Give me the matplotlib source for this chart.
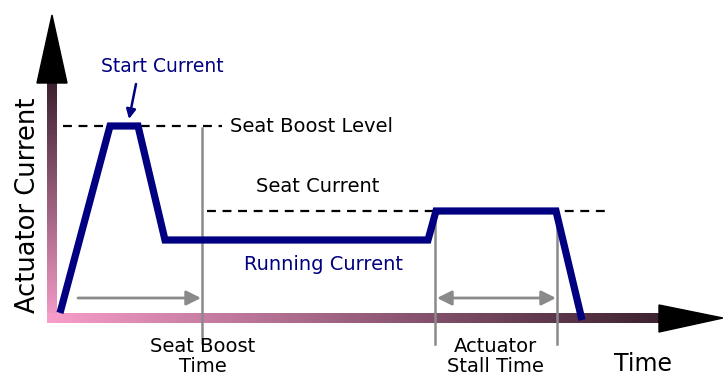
import numpy as np
import matplotlib
matplotlib.use("Agg")
import matplotlib.pyplot as plt
from matplotlib.colors import LinearSegmentedColormap

# diagram coordinates (pixel space, y grows downward)
curve_x = [60, 110, 138, 165, 428, 436, 556, 582]
curve_y = [313, 126, 126, 240, 240, 211, 211, 320]

boost_level = 126
boost_dash_x = [63, 222]
seat_level = 211
seat_dash_x = [207, 610]

guide_x = [202, 435, 557]
guide_top = [128, 211, 211]
guide_bottom = [343, 344, 344]

boost_arrow = (78, 201, 298)        # x0, x1, y
stall_arrow = (437, 556, 298)

yaxis_x = [47, 57]
yaxis_y = [83, 323]
xaxis_x = [47, 660]
xaxis_y = [313, 323]
yhead_x = [37, 67, 52]
yhead_y = [83, 83, 15]
xhead_x = [659, 659, 723]
xhead_y = [305, 332, 318]

NAVY = "#000080"
GRAY = "#8a8a8a"
PINK, DARK = "#f89dca", "#3d2231"
cmap = LinearSegmentedColormap.from_list("axis", [PINK, DARK])

fig = plt.figure(figsize=(7.23, 3.78), dpi=100)
ax = fig.add_axes([0, 0, 1, 1])
ax.set_xlim(0, 723); ax.set_ylim(378, 0); ax.axis("off")

# gradient axis bars
g = np.linspace(1, 0, 200).reshape(-1, 1)
ax.imshow(g, cmap=cmap, vmin=0, vmax=1, aspect="auto", interpolation="bilinear",
          extent=(yaxis_x[0], yaxis_x[1], yaxis_y[1], yaxis_y[0]), zorder=2)
gx = np.linspace(0, 1, 400).reshape(1, -1)
ax.imshow(gx, cmap=cmap, vmin=0, vmax=1, aspect="auto", interpolation="bilinear",
          extent=(xaxis_x[0], xaxis_x[1], xaxis_y[1], xaxis_y[0]), zorder=2)
ax.fill(yhead_x, yhead_y, color="black", zorder=3)
ax.fill(xhead_x, xhead_y, color="black", zorder=3)
ax.set_xlim(0, 723); ax.set_ylim(378, 0)

# dashed levels
ax.plot(boost_dash_x, [boost_level] * 2, color="black", lw=1.6, dashes=(4, 3), zorder=3)
ax.plot(seat_dash_x, [seat_level] * 2, color="black", lw=1.6, dashes=(4, 3), zorder=3)

# gray guides
for x, t, b in zip(guide_x, guide_top, guide_bottom):
    ax.plot([x, x], [t, b], color=GRAY, lw=1.8, zorder=3)
ax.annotate("", xy=(boost_arrow[1], boost_arrow[2]), xytext=(boost_arrow[0], boost_arrow[2]),
            arrowprops=dict(arrowstyle="-|>", color=GRAY, lw=2, mutation_scale=22,
                            shrinkA=0, shrinkB=0), zorder=3)
ax.annotate("", xy=(stall_arrow[1], stall_arrow[2]), xytext=(stall_arrow[0], stall_arrow[2]),
            arrowprops=dict(arrowstyle="<|-|>", color=GRAY, lw=2, mutation_scale=22,
                            shrinkA=0, shrinkB=0), zorder=3)

# current curve
ax.plot(curve_x, curve_y, color=NAVY, lw=5.2, solid_joinstyle="miter",
        solid_capstyle="butt", zorder=4)
ax.annotate("", xy=(129, 119), xytext=(136, 84),
            arrowprops=dict(arrowstyle="-|>", color=NAVY, lw=1.8, mutation_scale=14,
                            shrinkA=0, shrinkB=0), zorder=4)

fs = 14
ax.text(162, 67, "Start Current", color=NAVY, fontsize=fs - 0.5, ha="center", va="center")
ax.text(230, 127, "Seat Boost Level", color="black", fontsize=fs, ha="left", va="center")
ax.text(318, 187, "Seat Current", color="black", fontsize=fs, ha="center", va="center")
ax.text(323, 265, "Running Current", color=NAVY, fontsize=fs, ha="center", va="center")
ax.text(28, 205, "Actuator Current", color="black", fontsize=18.5, rotation=90,
        ha="center", va="center")
ax.text(203, 347, "Seat Boost", color="black", fontsize=fs, ha="center", va="center")
ax.text(203, 367, "Time", color="black", fontsize=fs, ha="center", va="center")
ax.text(495, 347, "Actuator", color="black", fontsize=fs, ha="center", va="center")
ax.text(495, 367, "Stall Time", color="black", fontsize=fs, ha="center", va="center")
ax.text(643, 364, "Time", color="black", fontsize=17, ha="center", va="center")

fig.savefig("out.png", dpi=100)
